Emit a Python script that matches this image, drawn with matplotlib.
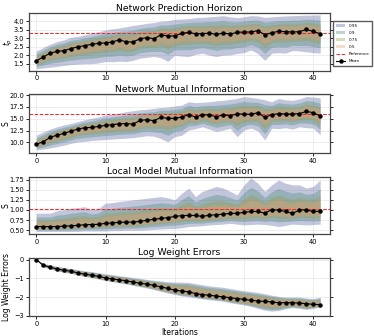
import numpy as np
import matplotlib
matplotlib.use("Agg")
import matplotlib.pyplot as plt

# iterations
iters = np.arange(42)

# Network prediction horizon
mean_tp = [1.67, 1.89, 2.12, 2.22, 2.27, 2.39, 2.49, 2.56, 2.64, 2.70, 2.72, 2.78, 2.90, 2.78,
           2.78, 2.97, 3.03, 2.97, 3.20, 3.13, 3.13, 3.28, 3.34, 3.26, 3.26, 3.30, 3.22, 3.30,
           3.24, 3.34, 3.36, 3.36, 3.44, 3.20, 3.32, 3.40, 3.38, 3.36, 3.38, 3.51, 3.40, 3.26]
hi_tp = [2.25, 2.45, 2.65, 2.80, 2.90, 3.05, 3.10, 3.20, 3.28, 3.38, 3.48, 3.55, 3.60, 3.67,
         3.75, 3.80, 3.87, 3.92, 4.00, 4.02, 4.10, 4.12, 4.15, 4.20, 4.22, 4.25, 4.28, 4.32,
         4.25, 4.20, 4.25, 4.32, 4.30, 4.22, 4.25, 4.28, 4.30, 4.32, 4.33, 4.35, 4.35, 4.37]
lo_tp = [1.20, 1.25, 1.30, 1.34, 1.40, 1.45, 1.48, 1.50, 1.50, 1.55, 1.63, 1.62, 1.65, 1.63,
         1.70, 1.83, 1.88, 1.93, 1.85, 1.63, 2.00, 1.95, 1.92, 2.05, 2.12, 2.00, 1.92, 2.00,
         2.02, 2.10, 2.15, 2.31, 2.10, 1.69, 2.12, 2.15, 2.12, 2.27, 2.25, 2.20, 2.15, 2.12]
ref_tp = 3.28

# Network mutual information
mean_S = [9.57, 10.13, 11.05, 11.54, 11.89, 12.39, 12.80, 13.10, 13.15, 13.38, 13.59, 13.73,
          13.94, 13.94, 13.87, 14.65, 14.80, 14.58, 15.29, 15.08, 15.08, 15.36, 15.86, 15.37,
          15.86, 15.79, 15.44, 15.79, 15.65, 16.00, 16.00, 15.93, 16.28, 15.30, 15.86, 16.07,
          16.00, 16.00, 16.07, 16.56, 16.28, 15.58]
hi_S = [11.5, 12.2, 12.8, 13.3, 13.7, 14.0, 14.4, 14.8, 15.1, 15.4, 15.8, 16.0, 16.2, 16.5,
        16.7, 16.9, 17.0, 17.2, 17.4, 17.5, 17.7, 17.9, 18.6, 18.4, 18.5, 18.6, 18.8, 18.9,
        19.1, 19.3, 19.7, 19.5, 19.3, 19.0, 18.6, 19.3, 19.0, 18.9, 19.2, 19.7, 19.6, 19.4]
lo_S = [8.4, 8.6, 8.8, 9.1, 9.4, 9.8, 10.1, 10.2, 10.4, 10.5, 10.6, 10.7, 10.8, 10.9,
        11.0, 11.2, 11.4, 11.3, 10.8, 10.1, 11.2, 11.5, 12.6, 12.9, 13.3, 12.8, 12.3, 12.6,
        13.0, 11.2, 12.6, 13.0, 12.4, 10.5, 13.0, 12.9, 13.1, 12.8, 13.3, 13.1, 13.0, 11.6]
ref_S = 16.0

# Local model mutual information
mean_L = [0.59, 0.59, 0.59, 0.59, 0.60, 0.61, 0.62, 0.635, 0.64, 0.645, 0.67, 0.68, 0.695, 0.70,
          0.70, 0.72, 0.745, 0.77, 0.79, 0.81, 0.84, 0.86, 0.864, 0.864, 0.84, 0.872, 0.88, 0.897,
          0.913, 0.92, 0.938, 0.962, 0.962, 0.92, 1.01, 0.995, 0.962, 0.913, 1.00, 1.00, 0.962, 0.97]
hi_L = [0.92, 0.92, 0.92, 0.98, 1.00, 1.04, 1.06, 1.08, 1.00, 1.04, 1.17, 1.18, 1.21, 1.23,
        1.25, 1.27, 1.29, 1.31, 1.33, 1.30, 1.25, 1.41, 1.54, 1.33, 1.46, 1.52, 1.58, 1.54,
        1.46, 1.37, 1.62, 1.79, 1.66, 1.46, 1.62, 1.74, 1.66, 1.62, 1.62, 1.54, 1.58, 1.74]
lo_L = [0.47, 0.47, 0.47, 0.47, 0.47, 0.47, 0.47, 0.48, 0.48, 0.48, 0.48, 0.49, 0.49, 0.50,
        0.50, 0.50, 0.51, 0.52, 0.53, 0.54, 0.54, 0.56, 0.59, 0.60, 0.61, 0.63, 0.64, 0.65,
        0.67, 0.65, 0.63, 0.64, 0.65, 0.64, 0.62, 0.59, 0.62, 0.65, 0.64, 0.63, 0.64, 0.65]
ref_L = 1.02

# Log weight errors
mean_W = [0.00, -0.30, -0.41, -0.50, -0.57, -0.62, -0.71, -0.78, -0.83, -0.90, -0.98, -1.03,
          -1.08, -1.13, -1.20, -1.26, -1.31, -1.38, -1.45, -1.54, -1.63, -1.68, -1.72, -1.81,
          -1.87, -1.90, -1.95, -1.99, -2.03, -2.08, -2.12, -2.17, -2.21, -2.23, -2.26, -2.30,
          -2.30, -2.30, -2.32, -2.35, -2.39, -2.40]
hi_W = [0.00, -0.20, -0.28, -0.36, -0.42, -0.48, -0.54, -0.60, -0.64, -0.70, -0.76, -0.80,
        -0.86, -0.90, -0.96, -1.00, -1.06, -1.10, -1.14, -1.18, -1.20, -1.20, -1.22, -1.28,
        -1.34, -1.40, -1.44, -1.48, -1.54, -1.60, -1.66, -1.70, -1.75, -1.82, -1.90, -1.96,
        -2.00, -2.00, -2.00, -2.05, -2.08, -2.00]
lo_W = [0.00, -0.38, -0.50, -0.60, -0.68, -0.74, -0.82, -0.90, -0.96, -1.04, -1.12, -1.18,
        -1.24, -1.30, -1.38, -1.45, -1.52, -1.60, -1.70, -1.78, -1.86, -1.94, -1.98, -2.04,
        -2.10, -2.14, -2.18, -2.22, -2.30, -2.36, -2.42, -2.50, -2.60, -2.70, -2.75, -2.72,
        -2.62, -2.56, -2.60, -2.66, -2.60, -2.52]

quantiles = ["0.95", "0.9", "0.75", "0.5"]
band_colors = ["#58629f", "#488a7a", "#9b9b48", "#ee9b69"]
# fraction of the 0.95 spread covered by each band
band_frac = [1.0, 0.72, 0.5, 0.35]
band_frac_w = [1.0, 0.85, 0.7, 0.55]

panels = [
    ("Network Prediction Horizon", "$t_p$", mean_tp, lo_tp, hi_tp, ref_tp, (1.1, 4.45),
     [1.5, 2.0, 2.5, 3.0, 3.5, 4.0], band_frac),
    ("Network Mutual Information", "S", mean_S, lo_S, hi_S, ref_S, (7.7, 20.15),
     [10.0, 12.5, 15.0, 17.5, 20.0], band_frac),
    ("Local Model Mutual Information", "S", mean_L, lo_L, hi_L, ref_L, (0.41, 1.82),
     [0.5, 0.75, 1.0, 1.25, 1.5, 1.75], band_frac),
    ("Log Weight Errors", "Log Weight Errors", mean_W, lo_W, hi_W, None, (-3.0, 0.1),
     [-3, -2, -1, 0], band_frac_w),
]
boxes = [(0.960, 0.790), (0.719, 0.544), (0.474, 0.304), (0.233, 0.060)]
label_x = [-0.048, -0.06, -0.06, -0.06]

fig = plt.figure(figsize=(3.74, 3.36), dpi=100)
left, right = 0.0775, 0.882

for k, (title, ylab, m, lo, hi, ref, ylim, yt, frac) in enumerate(panels):
    top, bot = boxes[k]
    ax = fig.add_axes([left, bot, right - left, top - bot])
    m = np.array(m); lo = np.array(lo); hi = np.array(hi)
    for q, c, f in zip(quantiles, band_colors, frac):
        ax.fill_between(iters, m - f * (m - lo), m + f * (hi - m), color=c, alpha=0.36,
                        linewidth=0, label=q)
    if ref is not None:
        ax.axhline(ref, color="#ff2020", linestyle="--", linewidth=0.7, label="Reference")
    ax.plot(iters, m, color="black", linewidth=0.8, marker="o", markersize=2.2, label="Mean")
    ax.set_xlim(-1.05, 42.4)
    ax.set_ylim(*ylim)
    ax.set_yticks(yt)
    ax.set_xticks([0, 10, 20, 30, 40])
    ax.grid(True, color="#e6e6e6", linewidth=0.5)
    ax.set_axisbelow(True)
    ax.set_title(title, fontsize=6.7, pad=2)
    ax.set_ylabel(ylab, fontsize=5.5)
    ax.yaxis.set_label_coords(label_x[k], 0.5)
    ax.tick_params(labelsize=4.8, length=2, width=0.6, pad=1.5, right=True)
    for s in ax.spines.values():
        s.set_color("#444444")
        s.set_linewidth(0.9)
    if k == 0:
        ax.legend(loc="upper left", bbox_to_anchor=(1.005, 0.9), fontsize=3, frameon=True,
                  fancybox=False, edgecolor="#333333", borderpad=0.6, handlelength=2.2,
                  labelspacing=0.75)
    if k == 3:
        ax.set_xlabel("Iterations", fontsize=5.5, labelpad=1)

fig.savefig("out.png", dpi=100)
